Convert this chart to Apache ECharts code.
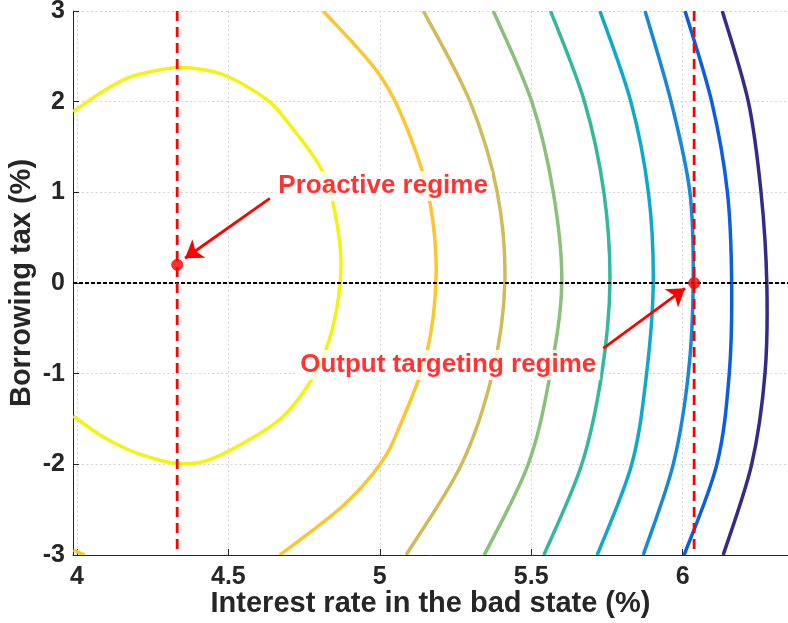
<!DOCTYPE html>
<html><head><meta charset="utf-8">
<script src="https://cdn.jsdelivr.net/npm/echarts@6/dist/echarts.min.js"></script>
<style>html,body{margin:0;padding:0;background:#fff;overflow:hidden}#c{width:788px;height:623px}</style>
</head><body><div id="c"></div>
<script>
// ---- data ----
const xTicks = [4, 4.5, 5, 5.5, 6];
const yTicks = [-3, -2, -1, 0, 1, 2, 3];
const levelY = [3, 2, 1, 0, -1, -2, -3];

const yellowX = [3.988, 4.076, 4.164, 4.241, 4.329, 4.423, 4.500, 4.627, 4.693, 4.803, 4.846, 4.872, 4.845, 4.786, 4.680, 4.538, 4.423, 4.329, 4.241, 4.164, 4.076, 3.988];
const yellowY = [1.889, 2.092, 2.256, 2.329, 2.375, 2.349, 2.275, 2.024, 1.787, 1.283, 0.879, 0.199, -0.485, -1.000, -1.475, -1.787, -1.964, -1.989, -1.924, -1.831, -1.676, -1.467];

const orangeX = [4.813, 5.001, 5.105, 5.166, 5.186, 5.155, 5.070, 5.001, 4.875, 4.670];
const orangeY = [3.0, 2.289, 1.577, 0.879, 0.088, -0.775, -1.547, -2.0, -2.468, -3.0];
const orangeCornerX = [3.988, 4.026];
const orangeCornerY = [-2.945, -3.0];

const oliveX = [5.144, 5.298, 5.388, 5.413, 5.372, 5.270, 5.087];
const greenX = [5.375, 5.502, 5.573, 5.601, 5.563, 5.490, 5.345];
const tealX  = [5.564, 5.676, 5.740, 5.760, 5.733, 5.667, 5.542];
const cyanX  = [5.727, 5.829, 5.887, 5.903, 5.881, 5.832, 5.718];
const lblueX = [5.876, 5.962, 6.024, 6.035, 6.019, 5.969, 5.870];
const blueX  = [6.008, 6.096, 6.148, 6.162, 6.154, 6.113, 6.005];
const navyX  = [6.131, 6.217, 6.259, 6.278, 6.272, 6.228, 6.134];

const proactive = [4.331, 0.2];
const outputTarget = [6.038, 0];
const xMin = 3.987, xMax = 6.348, yMin = -3, yMax = 3;

const labelProactive = 'Proactive regime';
const labelOutput = 'Output targeting regime';
const labelProactivePos = [5.011, 1.07];
const labelOutputPos = [5.226, -0.905];
const arrowProactive = [[4.637, 0.934], [4.357, 0.273]];
const arrowOutput = [[5.738, -0.720], [6.008, -0.058]];

// ---- build ----
const zip = (xs, ys) => xs.map((x, i) => [x, ys[i]]);
const FONT = 'Liberation Sans';
const AX = '#262626';

// contour line drawn as a Catmull-Rom spline through the read points (pixel positions from the axes)
function contour(xs, ys, color) {
  const pts = zip(xs, ys);
  return {
    type: 'custom', coordinateSystem: 'cartesian2d', silent: true, z: 2, clip: true,
    data: pts,
    encode: { x: 0, y: 1 },
    renderItem: function (params, api) {
      if (params.dataIndex !== 0) return null;
      const p = pts.map(function (d) { return api.coord(d); });
      let path = 'M' + p[0][0] + ' ' + p[0][1];
      for (let i = 0; i < p.length - 1; i++) {
        const p0 = p[i - 1] || p[i], p1 = p[i], p2 = p[i + 1], p3 = p[i + 2] || p[i + 1];
        const c1x = p1[0] + (p2[0] - p0[0]) / 6, c1y = p1[1] + (p2[1] - p0[1]) / 6;
        const c2x = p2[0] - (p3[0] - p1[0]) / 6, c2y = p2[1] - (p3[1] - p1[1]) / 6;
        path += ' C' + c1x + ' ' + c1y + ' ' + c2x + ' ' + c2y + ' ' + p2[0] + ' ' + p2[1];
      }
      return {
        type: 'path', shape: { pathData: path },
        style: { fill: null, stroke: color, lineWidth: 3.5, lineCap: 'butt', lineJoin: 'round' }
      };
    }
  };
}

const series = [
  contour(yellowX, yellowY, '#F3F213'),
  contour(orangeX, orangeY, '#FDC62E'),
  contour(orangeCornerX, orangeCornerY, '#FDC62E'),
  contour(oliveX, levelY, '#D1BA58'),
  contour(greenX, levelY, '#89C07A'),
  contour(tealX, levelY, '#33B89D'),
  contour(cyanX, levelY, '#0DA8CB'),
  contour(lblueX, levelY, '#1787D7'),
  contour(blueX, levelY, '#0B5DE2'),
  contour(navyX, levelY, '#342A89'),
  { type: 'line', data: [[xMin, 0], [xMax, 0]], showSymbol: false, symbol: 'none', silent: true, z: 3,
    lineStyle: { color: '#000', width: 2, type: [4, 2] } },
  { type: 'line', data: [[proactive[0], yMax], [proactive[0], yMin]], showSymbol: false, symbol: 'none', silent: true, z: 4,
    lineStyle: { color: '#FF0000', width: 2.8, type: [10, 6] } },
  { type: 'line', data: [[outputTarget[0], yMax], [outputTarget[0], yMin]], showSymbol: false, symbol: 'none', silent: true, z: 4,
    lineStyle: { color: '#FF0000', width: 2.8, type: [10, 6] } },
  { type: 'line', data: [], silent: true, z: 5,
    markLine: {
      silent: true, animation: false, symbol: ['none', 'arrow'], symbolSize: 17,
      label: { show: false },
      lineStyle: { color: '#FF0000', width: 2.8, type: 'solid' },
      emphasis: { disabled: true },
      data: [
        [{ coord: arrowProactive[0] }, { coord: arrowProactive[1] }],
        [{ coord: arrowOutput[0] }, { coord: arrowOutput[1] }]
      ]
    } },
  { type: 'scatter', data: [proactive, outputTarget], symbolSize: 11, silent: true, z: 6,
    itemStyle: { color: '#FF0000', borderColor: '#FF0000', borderWidth: 1 } },
  { type: 'scatter', symbolSize: 0, silent: true, z: 7,
    data: [
      { value: labelProactivePos, label: { formatter: labelProactive } },
      { value: labelOutputPos, label: { formatter: labelOutput } }
    ],
    label: { show: true, position: 'inside', color: '#FF0000', fontSize: 26, fontWeight: 'bold',
      fontFamily: FONT, backgroundColor: '#fff', padding: [3, 4, 1, 4] } }
];

const chart = echarts.init(document.getElementById('c'), null, { renderer: 'canvas', width: 788, height: 623 });
chart.setOption({
  animation: false,
  backgroundColor: '#fff',
  grid: { left: 73, right: 0, top: 11, bottom: 68, containLabel: false, outerBoundsMode: 'none' },
  xAxis: {
    type: 'value', min: xMin, max: xMax,
    name: 'Interest rate in the bad state (%)', nameLocation: 'middle', nameGap: 34, nameMoveOverlap: false,
    nameTextStyle: { color: AX, fontSize: 29, fontWeight: 'bold', fontFamily: FONT },
    axisLine: { show: true, onZero: false, lineStyle: { color: AX, width: 1 } },
    axisTick: { show: true, inside: true, length: 6, customValues: xTicks, lineStyle: { color: AX } },
    axisLabel: { customValues: xTicks, color: AX, fontSize: 25, fontWeight: 'bold', fontFamily: FONT, margin: 10 },
    splitLine: { show: true, lineStyle: { color: '#d4d4d4', width: 1, type: [2, 2.5] } }
  },
  yAxis: {
    type: 'value', min: yMin, max: yMax, interval: 1,
    name: 'Borrowing tax (%)', nameLocation: 'middle', nameGap: 37, nameMoveOverlap: false,
    nameTextStyle: { color: AX, fontSize: 29, fontWeight: 'bold', fontFamily: FONT },
    axisLine: { show: true, onZero: false, lineStyle: { color: AX, width: 1 } },
    axisTick: { show: true, inside: true, length: 6, lineStyle: { color: AX } },
    axisLabel: { color: AX, fontSize: 25, fontWeight: 'bold', fontFamily: FONT, margin: 8 },
    splitLine: { show: true, lineStyle: { color: '#d4d4d4', width: 1, type: [2, 2.5] } }
  },
  series: series
});
</script></body></html>
